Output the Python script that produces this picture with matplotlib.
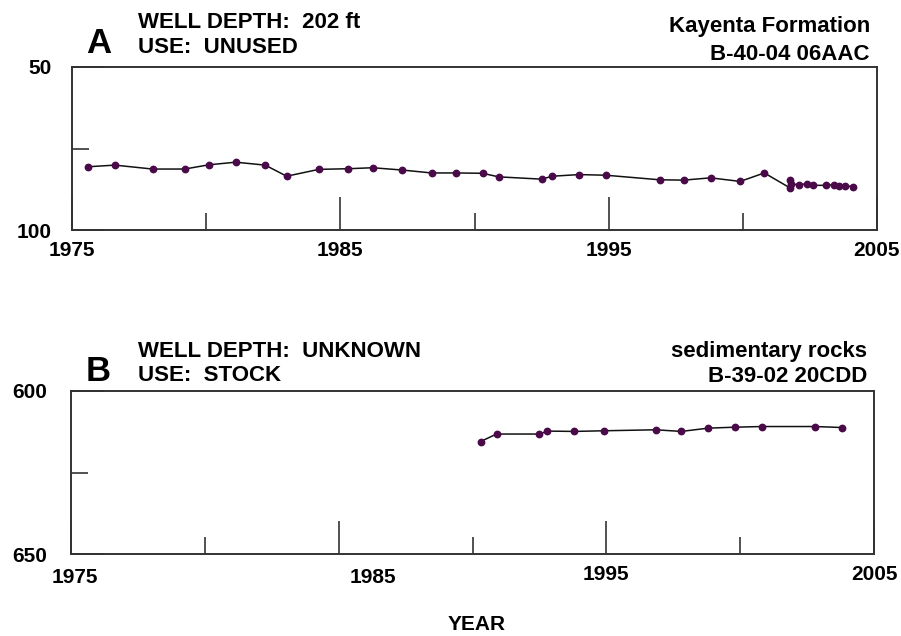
import matplotlib.pyplot as plt
from matplotlib.ticker import FixedLocator, NullFormatter
import matplotlib.transforms as mtransforms

plt.rcParams['font.family'] = ['Liberation Sans', 'DejaVu Sans']
plt.rcParams['font.weight'] = 'bold'

# Water levels, feet below land surface
years_a = [1975.6, 1976.6, 1978.0, 1979.2, 1980.1, 1981.1, 1982.2, 1983.0,
           1984.2, 1985.3, 1986.2, 1987.3, 1988.4, 1989.3, 1990.3, 1990.9,
           1992.5, 1992.9, 1993.9, 1994.9, 1996.9, 1997.8, 1998.8, 1999.9,
           2000.8, 2001.74, 2001.76, 2001.78, 2002.1, 2002.4, 2002.6, 2003.1,
           2003.4, 2003.6, 2003.8, 2004.1]
depth_a = [80.6, 80.1, 81.3, 81.3, 80.0, 79.2, 80.1, 83.5,
           81.4, 81.2, 80.9, 81.6, 82.5, 82.5, 82.6, 83.7,
           84.4, 83.5, 83.0, 83.2, 84.6, 84.7, 84.0, 85.1,
           82.5, 87.0, 84.7, 85.9, 86.1, 85.8, 86.3, 86.3,
           86.1, 86.4, 86.4, 86.7]

years_b = [1990.3, 1990.9, 1992.5, 1992.8, 1993.8, 1994.9, 1996.85, 1997.8,
           1998.8, 1999.8, 2000.8, 2002.8, 2003.8]
depth_b = [615.5, 613.2, 613.2, 612.3, 612.4, 612.2, 611.9, 612.4,
           611.4, 611.1, 610.9, 610.9, 611.2]

year_major = [1975, 1985, 1995, 2005]
year_minor = [1980, 1990, 2000]

W, H = 901, 636
fig = plt.figure(figsize=(W / 100, H / 100), dpi=100)

def px(x, y):
    return x / W, 1 - y / H

def panel(rect, years, depth, ylim, ypad):
    ax = fig.add_axes(rect)
    ax.plot(years, depth, color='#111111', lw=1.1, marker='o', ms=4.6,
            mfc='#4a0a4a', mec='#4a0a4a', zorder=3)
    ax.set_xlim(1975, 2005)
    ax.set_ylim(ylim[1], ylim[0])
    ax.xaxis.set_major_locator(FixedLocator(year_major))
    ax.xaxis.set_minor_locator(FixedLocator(year_minor))
    ax.yaxis.set_major_locator(FixedLocator(list(ylim)))
    ax.yaxis.set_minor_locator(FixedLocator([sum(ylim) / 2]))
    ax.yaxis.set_minor_formatter(NullFormatter())
    ax.tick_params(which='both', direction='in', color='#222222', width=1.1,
                   labelsize=15)
    ax.tick_params(which='major', length=24)
    ax.tick_params(which='minor', length=12)
    ax.tick_params(axis='x', pad=8)
    ax.tick_params(axis='y', pad=ypad)
    for lab in ax.get_xticklabels() + ax.get_yticklabels():
        lab.set_fontweight('bold')
    for s in ax.spines.values():
        s.set_color('#333333')
        s.set_linewidth(1.4)
    return ax

ax_a = panel([72 / W, 406 / H, 805 / W, 163 / H], years_a, depth_a, (50, 100), 15)
ax_b = panel([71 / W, 82 / H, 803 / W, 163 / H], years_b, depth_b, (600, 650), 17)

# lower panel year labels sit slightly to the right
shifts = {'1975': 4, '1985': 34}
for lab in ax_b.get_xticklabels():
    dx = shifts.get(lab.get_text(), 0)
    if dx:
        lab.set_transform(lab.get_transform() +
                          mtransforms.ScaledTranslation(dx / 100, -3 / 100, fig.dpi_scale_trans))

def header(letter, y_letter, left_lines, left_y, right_lines, right_x, right_y):
    fig.text(*px(86, y_letter), letter, fontsize=25, fontweight='bold', va='baseline')
    for txt, y in zip(left_lines, left_y):
        fig.text(*px(138, y), txt, fontsize=16, fontweight='bold', va='baseline')
    for txt, y in zip(right_lines, right_y):
        fig.text(*px(right_x, y), txt, fontsize=16, fontweight='bold',
                 va='baseline', ha='right')

header('A', 53, ['WELL DEPTH:  202 ft', 'USE:  UNUSED'], [28, 53],
       ['Kayenta Formation', 'B-40-04 06AAC'], 870, [32, 60])
header('B', 381, ['WELL DEPTH:  UNKNOWN', 'USE:  STOCK'], [357, 381],
       ['sedimentary rocks', 'B-39-02 20CDD'], 867, [357, 382])

fig.text(*px(477, 630), 'YEAR', fontsize=15, fontweight='bold', ha='center', va='baseline')

fig.savefig('out.png', dpi=100)
